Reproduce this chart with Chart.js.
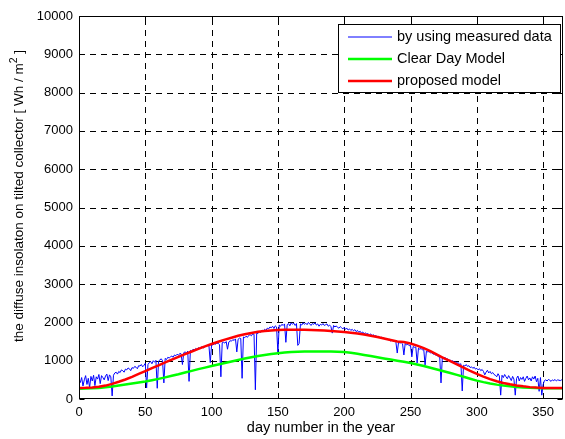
<!DOCTYPE html>
<html>
<head>
<meta charset="utf-8">
<script src="https://cdn.jsdelivr.net/npm/chart.js@4.4.1/dist/chart.umd.min.js"></script>
<style>
html,body{margin:0;padding:0;background:#fff;}
canvas{display:block;}
</style>
</head>
<body>
<canvas id="c" width="565" height="439" style="width:565px;height:439px"></canvas>
<script>
// ---- data ----
const seriesNames = ["by using measured data", "Clear Day Model", "proposed model"];
const xTicks = [0, 50, 100, 150, 200, 250, 300, 350];
const yTicks = [0, 1000, 2000, 3000, 4000, 5000, 6000, 7000, 8000, 9000, 10000];

// daily measured values, day 0..365
const measured = [
 520,430,560,340,500,610,380,540,300,590,
 470,620,350,580,520,640,400,610,560,500,
 600,650,480,630,580,80,620,680,700,650,
 720,690,760,740,700,780,760,810,790,740,
 820,800,850,830,790,870,860,900,840,880,
 930,290,900,950,980,920,1000,960,1010,280,
 990,1020,1050,1000,420,1060,1030,1090,1070,1100,
 1120,1090,1150,1130,1170,1140,1190,1180,900,1210,
 1230,1200,1250,460,1270,1240,1300,1280,1320,1290,
 1340,1310,1360,1350,1330,1380,1370,1400,1390,950,
 1420,1410,1440,1430,1460,1450,1420,580,1470,1480,
 1460,1500,1300,1490,1520,1510,1550,1530,1570,1230,
 1560,1590,1580,540,1620,1600,1640,1610,1660,1680,
 1650,1700,1690,240,1720,1710,1760,1740,1800,1780,
 1820,1790,1850,1830,1880,1860,1900,1840,1910,1880,
 1200,1930,1900,1950,1920,1960,1480,1940,1970,1910,
 1990,1950,1980,1920,1970,1400,1450,1960,1930,1990,
 1950,1980,1940,2000,1960,1920,1970,1950,1990,1930,
 1960,1900,1950,1930,1970,1920,1940,1960,1900,1930,
 1890,1720,1920,1880,1910,1870,1850,1890,1860,1830,
 1870,1820,1850,1800,1830,1790,1820,1780,1810,1760,
 1790,1740,1770,1720,1750,1700,1730,1690,1710,1670,
 1700,1650,1680,1630,1660,1610,1640,1590,1620,1580,
 1600,1560,1580,1540,1560,1510,1540,1500,1520,1480,
 1200,1490,1460,1470,1440,1150,1450,1410,1430,1390,
 1400,1100,1370,1350,1360,940,1330,1300,1320,1280,
 1290,890,1250,1230,1240,1200,1210,1170,1180,1140,
 1150,1100,1120,420,1080,1060,1090,1040,1050,1010,
 1020,980,1000,960,970,930,950,900,920,210,
 880,860,900,850,870,820,840,800,830,780,
 800,760,790,740,770,720,630,700,750,680,
 720,660,690,640,620,580,660,600,100,620,
 560,640,580,530,610,550,480,590,520,100,
 540,600,470,560,510,580,460,540,600,500,
 550,470,580,520,600,450,540,200,560,100,
 380,480,500,470,510,490,460,500,480,510,
 470,500,490,480,500,490
];

// model curves sampled every 5 days
const modelDays = [0,5,10,15,20,25,30,35,40,45,50,55,60,65,70,75,80,85,90,95,100,105,110,115,120,125,130,135,140,145,150,155,160,165,170,175,180,185,190,195,200,205,210,215,220,225,230,235,240,245,250,255,260,265,270,275,280,285,290,295,300,305,310,315,320,325,330,335,340,345,350,355,360,365];
const clearDay = [270,272,278,290,305,325,350,378,405,430,455,490,525,565,605,645,690,735,780,820,860,900,940,980,1020,1055,1090,1120,1150,1175,1195,1212,1225,1235,1240,1242,1242,1240,1237,1232,1225,1205,1180,1150,1120,1090,1060,1030,1000,970,940,900,860,815,770,725,680,630,580,530,480,440,405,375,350,330,315,302,292,286,282,280,278,278];
const proposed = [290,292,300,320,350,395,450,510,580,655,730,805,880,955,1030,1100,1170,1240,1310,1375,1435,1495,1550,1600,1650,1690,1725,1755,1775,1790,1800,1808,1810,1810,1808,1803,1797,1788,1778,1765,1750,1732,1710,1683,1652,1618,1580,1540,1500,1490,1450,1395,1330,1250,1160,1070,990,905,820,735,655,585,520,465,420,385,355,330,310,298,290,287,285,285];

const seriesColors = ["#0000ff", "#00ff00", "#ff0000"];
const FONT = "'Liberation Sans', Arial, sans-serif";

// ---- build datasets ----
const measuredPts = measured.map((v, i) => ({x: i, y: v}));
const clearPts = modelDays.map((d, i) => ({x: d, y: clearDay[i]}));
const propPts = modelDays.map((d, i) => ({x: d, y: proposed[i]}));

const matlab = {
  id: 'matlab',
  beforeDatasetsDraw(chart) {
    const ctx = chart.ctx, a = chart.chartArea;
    const xs = chart.scales.x, ys = chart.scales.y;
    ctx.save();
    ctx.strokeStyle = '#000';
    ctx.lineWidth = 1;
    ctx.setLineDash([6, 5]);
    xTicks.forEach(t => {
      if (t === 0) return;
      const px = Math.round(xs.getPixelForValue(t)) + 0.5;
      ctx.beginPath(); ctx.moveTo(px, a.bottom); ctx.lineTo(px, a.top); ctx.stroke();
    });
    yTicks.forEach(t => {
      if (t === 0 || t === 10000) return;
      const py = Math.round(ys.getPixelForValue(t)) + 0.5;
      ctx.beginPath(); ctx.moveTo(a.left, py); ctx.lineTo(a.right, py); ctx.stroke();
    });
    ctx.restore();
  },
  afterDatasetsDraw(chart) {
    const ctx = chart.ctx, a = chart.chartArea;
    const xs = chart.scales.x, ys = chart.scales.y;
    ctx.save();
    ctx.strokeStyle = '#000';
    ctx.lineWidth = 1;
    ctx.setLineDash([]);
    const L = Math.round(a.left) + 0.5, R = Math.round(a.right) - 0.5;
    const T = Math.round(a.top) + 0.5, B = Math.round(a.bottom) - 0.5;
    ctx.strokeRect(L, T, R - L, B - T);
    // inward tick marks
    const tl = 5;
    ctx.beginPath();
    xTicks.forEach(t => {
      const px = Math.round(xs.getPixelForValue(t)) + 0.5;
      ctx.moveTo(px, B); ctx.lineTo(px, B - tl);
      ctx.moveTo(px, T); ctx.lineTo(px, T + tl);
    });
    yTicks.forEach(t => {
      const py = Math.round(ys.getPixelForValue(t)) + 0.5;
      ctx.moveTo(L, py); ctx.lineTo(L + tl, py);
      ctx.moveTo(R, py); ctx.lineTo(R - tl, py);
    });
    ctx.stroke();

    // legend
    const lx = 338.5, ly = 24.5, lw = 222, lh = 68;
    ctx.fillStyle = '#fff';
    ctx.fillRect(lx, ly, lw, lh);
    ctx.strokeRect(lx, ly, lw, lh);
    ctx.font = '14.5px ' + FONT;
    ctx.textBaseline = 'middle';
    ctx.textAlign = 'left';
    chart.data.datasets.forEach((ds, i) => {
      const ry = 37 + i * 22;
      ctx.strokeStyle = ds.borderColor;
      ctx.lineWidth = ds.borderWidth;
      ctx.beginPath(); ctx.moveTo(348, ry); ctx.lineTo(392, ry); ctx.stroke();
      ctx.fillStyle = '#000';
      ctx.fillText(ds.label, 397, ry);
    });

    // axis titles
    ctx.fillStyle = '#000';
    ctx.font = '14.5px ' + FONT;
    ctx.textAlign = 'center';
    ctx.textBaseline = 'middle';
    ctx.fillText('day number in the year', (a.left + a.right) / 2, 428);

    ctx.translate(19, 196);
    ctx.rotate(-Math.PI / 2);
    const p1 = 'the diffuse insolaton on tilted collector [ Wh / m';
    const p2 = '2';
    const p3 = ' ]';
    const fs = 13.5;
    ctx.font = fs + 'px ' + FONT;
    const w1 = ctx.measureText(p1).width, w3 = ctx.measureText(p3).width;
    ctx.font = '10.5px ' + FONT;
    const w2 = ctx.measureText(p2).width;
    const total = w1 + w2 + w3;
    let x0 = -total / 2;
    ctx.textAlign = 'left';
    ctx.font = fs + 'px ' + FONT;
    ctx.fillText(p1, x0, 0);
    ctx.font = '10.5px ' + FONT;
    ctx.fillText(p2, x0 + w1, -5);
    ctx.font = fs + 'px ' + FONT;
    ctx.fillText(p3, x0 + w1 + w2, 0);
    ctx.restore();
  }
};

new Chart(document.getElementById('c'), {
  type: 'line',
  data: {
    datasets: [
      {label: seriesNames[0], data: measuredPts, borderColor: seriesColors[0], borderWidth: 1, pointRadius: 0, tension: 0, order: 3},
      {label: seriesNames[1], data: clearPts, borderColor: seriesColors[1], borderWidth: 2.5, pointRadius: 0, tension: 0, order: 2},
      {label: seriesNames[2], data: propPts, borderColor: seriesColors[2], borderWidth: 2.5, pointRadius: 0, tension: 0, order: 1}
    ]
  },
  options: {
    responsive: false,
    animation: false,
    devicePixelRatio: 1,
    layout: {padding: {left: 0, right: 2, top: 16, bottom: 0}},
    plugins: {legend: {display: false}, tooltip: {enabled: false}},
    scales: {
      x: {
        type: 'linear', min: 0, max: 365,
        grid: {display: false, drawTicks: false},
        border: {display: false},
        afterBuildTicks: s => { s.ticks = xTicks.map(v => ({value: v})); },
        afterFit: s => { s.height = 40; },
        ticks: {padding: 6, color: '#000', font: {family: FONT, size: 13}, maxRotation: 0, callback: v => String(v)}
      },
      y: {
        type: 'linear', min: 0, max: 10000,
        grid: {display: false, drawTicks: false},
        border: {display: false},
        afterBuildTicks: s => { s.ticks = yTicks.map(v => ({value: v})); },
        afterFit: s => { s.width = 79; },
        ticks: {padding: 6, color: '#000', font: {family: FONT, size: 13}, callback: v => String(v)}
      }
    }
  },
  plugins: [matlab]
});
</script>
</body>
</html>
